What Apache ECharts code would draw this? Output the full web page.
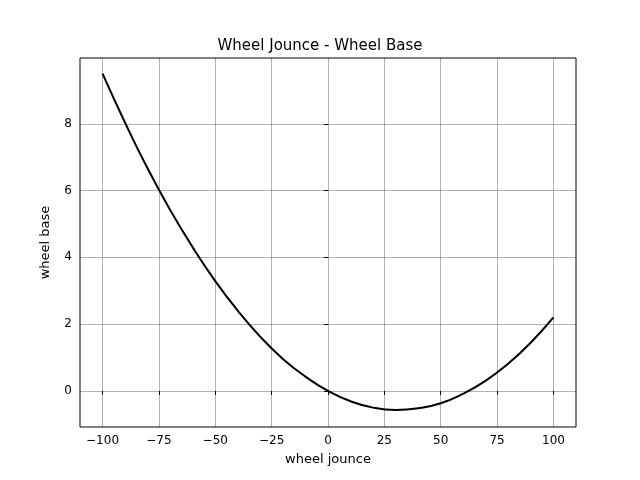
<!DOCTYPE html>
<html><head><meta charset="utf-8">
<script src="https://cdn.jsdelivr.net/npm/echarts@6/dist/echarts.min.js"></script>
<style>html,body{margin:0;padding:0;background:#fff}#c{width:640px;height:480px}</style>
</head><body><div id="c"></div>
<script>
const jounce = [-100,-90,-80,-70,-60,-50,-40,-30,-20,-10,0,10,20,30,40,50,60,70,80,90,100];
const wheelBase = [9.50,8.03,6.66,5.42,4.30,3.29,2.40,1.62,0.96,0.43,0,-0.31,-0.50,-0.57,-0.52,-0.37,-0.08,0.31,0.82,1.45,2.20];
const xTicks = [-100,-75,-50,-25,0,25,50,75,100];
const yTicks = [0,2,4,6,8];
const fmt = v => String(v).replace('-', '\u2212');
const font = 'DejaVu Sans';
const chart = echarts.init(document.getElementById('c'));
chart.setOption({
  animation:false,
  title:{text:'Wheel Jounce - Wheel Base',left:'center',top:34,textStyle:{fontFamily:font,fontSize:15,fontWeight:'normal',color:'#000'}},
  grid:{left:80,right:64,top:58,bottom:53,show:true,borderColor:'#000',borderWidth:1},
  xAxis:{type:'value',min:-110,max:110,name:'wheel jounce',nameLocation:'middle',nameGap:26,
    nameTextStyle:{fontFamily:font,fontSize:13,color:'#000'},
    axisLine:{show:false},
    axisTick:{show:true,customValues:xTicks,length:4,lineStyle:{color:'#000'}},
    axisLabel:{customValues:xTicks,formatter:fmt,fontFamily:font,fontSize:12,color:'#000',margin:8},
    splitLine:{show:true,lineStyle:{color:'rgba(0,0,0,0.3)',width:1}}},
  yAxis:{type:'value',min:-1.08,max:9.97,name:'wheel base',nameLocation:'middle',nameGap:28,
    nameTextStyle:{fontFamily:font,fontSize:13,color:'#000'},
    axisLine:{show:false},
    axisTick:{show:true,customValues:yTicks,length:4,lineStyle:{color:'#000'}},
    axisLabel:{customValues:yTicks,formatter:fmt,fontFamily:font,fontSize:12,color:'#000',margin:8},
    splitLine:{show:true,lineStyle:{color:'rgba(0,0,0,0.3)',width:1}}},
  series:[{type:'line',data:jounce.map((x,i)=>[x,wheelBase[i]]),smooth:true,showSymbol:false,
    lineStyle:{color:'#000',width:2}}]
});
</script></body></html>
